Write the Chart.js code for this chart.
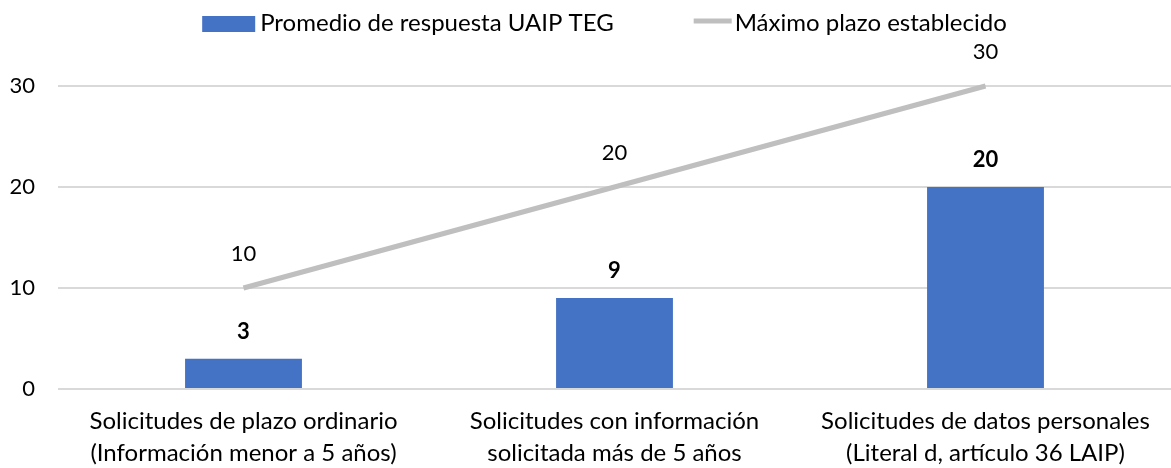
<!DOCTYPE html>
<html>
<head>
<meta charset="utf-8">
<script src="https://cdn.jsdelivr.net/npm/chart.js@4/dist/chart.umd.min.js"></script>
<style>
  html, body { margin: 0; padding: 0; background: #fff; }
  #wrap { width: 1171px; height: 468px; }
</style>
</head>
<body>
<div id="wrap"><canvas id="grafico"></canvas></div>
<script>
const categorias = [
  ['Solicitudes de plazo ordinario', '(Información menor a 5 años)'],
  ['Solicitudes con información', 'solicitada más de 5 años'],
  ['Solicitudes de datos personales', '(Literal d, artículo 36 LAIP)']
]
const promedio = [3, 9, 20]
const maximo = [10, 20, 30]
const ticksY = [0, 10, 20, 30]

const fuente = 'Lato, "Liberation Sans", sans-serif'

// etiquetas encima de barras y puntos
const etiquetas = {
  id: 'etiquetas',
  afterDatasetsDraw(chart) {
    const ctx = chart.ctx
    ctx.save()
    ctx.fillStyle = '#000'
    ctx.textAlign = 'center'
    ctx.textBaseline = 'middle'
    chart.data.datasets.forEach((ds, i) => {
      const meta = chart.getDatasetMeta(i)
      meta.data.forEach((el, j) => {
        if (ds.type === 'bar') {
          ctx.font = 'bold 22px ' + fuente
          ctx.fillText(ds.data[j], el.x, el.y - 27)
        } else {
          ctx.font = '22px ' + fuente
          ctx.fillText(ds.data[j], el.x, el.y - 34)
        }
      })
    })
    ctx.restore()
  }
}

// leyenda a mano para imitar el simbolo de linea
const leyenda = {
  id: 'leyenda',
  afterDraw(chart) {
    const ctx = chart.ctx
    const a = chart.chartArea
    ctx.save()
    ctx.font = '24px ' + fuente
    ctx.textBaseline = 'middle'
    ctx.fillStyle = '#000'
    const t1 = chart.data.datasets[0].label
    const t2 = chart.data.datasets[1].label
    const w1 = ctx.measureText(t1).width
    const w2 = ctx.measureText(t2).width
    const total = 53 + 5 + w1 + 80 + 38 + 3 + w2
    let x = (a.left + a.right) / 2 - total / 2 - 10
    const y = 23
    ctx.fillStyle = '#4472C4'
    ctx.fillRect(x, y - 7, 53, 16)
    x += 58
    ctx.fillStyle = '#000'
    ctx.fillText(t1, x, y)
    x += w1 + 80
    ctx.strokeStyle = '#BFBFBF'
    ctx.lineWidth = 5
    ctx.beginPath()
    ctx.moveTo(x, y - 2)
    ctx.lineTo(x + 38, y - 2)
    ctx.stroke()
    x += 41
    ctx.fillText(t2, x, y)
    ctx.restore()
  }
}

document.addEventListener('DOMContentLoaded', () => {
  const ctx = document.getElementById('grafico')
  new Chart(ctx, {
    data: {
      labels: categorias,
      datasets: [
        {
          type: 'bar',
          label: 'Promedio de respuesta UAIP TEG',
          data: promedio,
          backgroundColor: '#4472C4',
          categoryPercentage: 1,
          barPercentage: 0.315,
          order: 2
        },
        {
          type: 'line',
          label: 'Máximo plazo establecido',
          data: maximo,
          borderColor: '#BFBFBF',
          borderWidth: 5,
          pointRadius: 0,
          fill: false,
          clip: false,
          order: 1
        }
      ]
    },
    options: {
      responsive: true,
      maintainAspectRatio: false,
      animation: false,
      layout: { padding: { top: 86, left: 0, right: 0, bottom: 0 } },
      plugins: {
        legend: { display: false },
        tooltip: { enabled: false }
      },
      scales: {
        x: {
          offset: true,
          grid: { display: false, drawTicks: false },
          border: { display: false },
          ticks: {
            color: '#000',
            font: { family: fuente, size: 24, lineHeight: 1.333 },
            padding: 16,
            maxRotation: 0,
            autoSkip: false
          },
          afterFit(scale) { scale.height = 79 }
        },
        y: {
          min: 0,
          max: 30,
          afterBuildTicks(scale) { scale.ticks = ticksY.map(v => ({ value: v })) },
          grid: { color: '#D9D9D9', lineWidth: 2, drawTicks: false },
          border: { display: false },
          ticks: {
            color: '#000',
            font: { family: fuente, size: 22 },
            padding: 23
          },
          afterFit(scale) { scale.width = 58 }
        }
      }
    },
    plugins: [etiquetas, leyenda]
  })
})
</script>
</body>
</html>
